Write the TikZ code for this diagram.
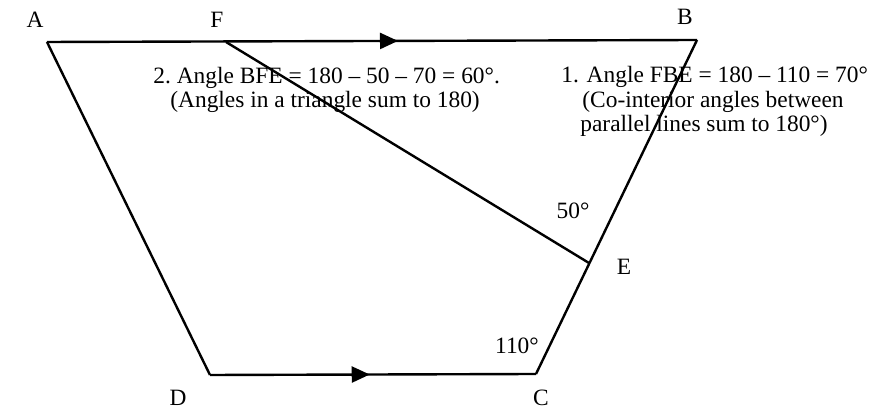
\documentclass[tikz,border=0pt]{standalone}
\usepackage{fontspec}
\setmainfont{Liberation Serif}
\usetikzlibrary{arrows.meta,decorations.markings}

\begin{document}
\begin{tikzpicture}[
        x=0.5pt, y=-0.5pt,
        font=\fontsize{11.7}{12.25}\selectfont,
        side/.style={line width=1.2pt},
        midarrow/.style={postaction={decorate,decoration={markings,
            mark=at position #1 with {\arrow{Triangle[length=9pt,width=8pt]}}}}},
        pointlabel/.style={inner sep=0pt},
        note/.style={anchor=base west, inner sep=0pt}
    ]
    \useasboundingbox (0,0) rectangle (873,410);

    % Eckpunkte
    \coordinate (A) at (47,42);
    \coordinate (F) at (226,42);
    \coordinate (B) at (697,40);
    \coordinate (E) at (589,263);
    \coordinate (C) at (536,374);
    \coordinate (D) at (210,375);

    % Seiten
    \draw [side, midarrow=0.54] (A) -- (B);
    \draw [side, midarrow=0.49] (D) -- (C);
    \draw [side] (A) -- (D);
    \draw [side] (B) -- (C);
    \draw [side] (F) -- (E);

    % Beschriftung der Punkte
    \node (labA) [pointlabel] at (35,20) {A};
    \node (labF) [pointlabel] at (217,20) {F};
    \node (labB) [pointlabel] at (685,17) {B};
    \node (labE) [pointlabel] at (624,267) {E};
    \node (labD) [pointlabel] at (178,398) {D};
    \node (labC) [pointlabel] at (541,398) {C};

    % Winkel
    \node (ang50) [pointlabel] at (573,211) {50°};
    \node (ang110) [pointlabel] at (517,346) {110°};

    % Rechnungen
    \node (stepa1) [note] at (561,83) {1. Angle FBE = 180 – 110 = 70°};
    \node (stepa2) [note] at (582,107.5) {(Co-interior angles between};
    \node (stepa3) [note] at (580,132) {parallel lines sum to 180°)};
    \node (stepb1) [note] at (153,84) {2.\ Angle BFE = 180 – 50 – 70 = 60°.};
    \node (stepb2) [note] at (170,108) {(Angles in a triangle sum to 180)};

\end{tikzpicture}
\end{document}
